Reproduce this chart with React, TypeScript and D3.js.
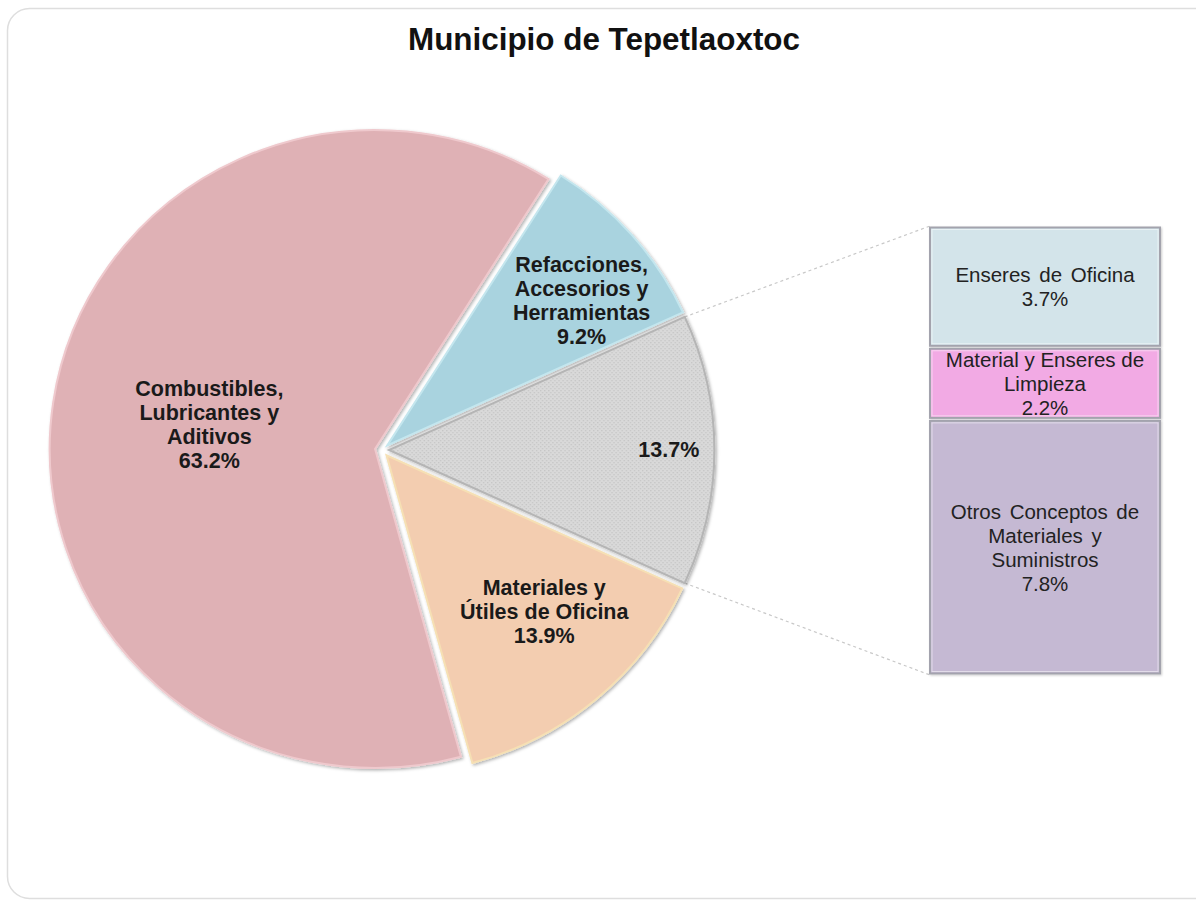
import React from "react";
import * as d3 from "d3";

const W = 1196;
const H = 903;

const title = "Municipio de Tepetlaoxtoc";

const pieCategories = [
  "Refacciones, Accesorios y Herramientas",
  "Otros",
  "Materiales y Útiles de Oficina",
  "Combustibles, Lubricantes y Aditivos",
];
const pieValues = [9.2, 13.7, 13.9, 63.2];
const pieLabelLines = [
  ["Refacciones,", "Accesorios y", "Herramientas"],
  [],
  ["Materiales y", "Útiles de Oficina"],
  ["Combustibles,", "Lubricantes y", "Aditivos"],
];

const barCategories = [
  "Enseres de Oficina",
  "Material y Enseres de Limpieza",
  "Otros Conceptos de Materiales y Suministros",
];
const barValues = [3.7, 2.2, 7.8];
const barLabelLines = [
  ["Enseres de Oficina"],
  ["Material y Enseres de", "Limpieza"],
  ["Otros Conceptos de", "Materiales y", "Suministros"],
];

// styles
const pieFills = ["#a9d3df", "url(#dots)", "#f3cdb0", "#dfb1b5"];
const pieRims = ["#c4e6ee", "#b5b5b5", "#f6e0b4", "#efc9cd"];
const pieLabelFactor = [0.75, 0.86, 0.69, 0.515];
const pieLabelTurn = [4, 0, -4.3, 0]; // degrees
const barFills = ["#d3e4ea", "#f2aae4", "#c5b9d3"];
const barWordSpacing = [3, 0, 3];

const cx = 382;
const cy = 450;
const R = 319;
const SX = 1.02;
const EXPLODE = 7;

const barX0 = 930;
const barX1 = 1160;
const barY0 = 226;
const barY1 = 675;

const fmt = (v: number) => v.toFixed(1) + "%";

export default function App() {
  const total = d3.sum(pieValues);
  const start = Math.PI / 2 - ((pieValues[0] + pieValues[1] / 2) / total) * 2 * Math.PI;
  const pie = d3
    .pie<number>()
    .sort(null)
    .value((d) => d)
    .startAngle(start)
    .endAngle(start + 2 * Math.PI);
  const arcs = pie(pieValues);
  const arc = d3.arc<d3.PieArcDatum<number>>().innerRadius(0).outerRadius(R);

  const mid = (a: d3.PieArcDatum<number>) => (a.startAngle + a.endAngle) / 2;
  const offset = (a: d3.PieArcDatum<number>) => {
    const m = mid(a);
    return [EXPLODE * Math.sin(m), -EXPLODE * Math.cos(m)];
  };

  const barTotal = d3.sum(barValues);
  const y = d3.scaleLinear().domain([0, barTotal]).range([barY0, barY1]);
  let acc = 0;
  const segs = barValues.map((v, i) => {
    const s = { i, v, y0: y(acc), y1: y(acc + v) };
    acc += v;
    return s;
  });

  // connector points from "other" slice
  const other = arcs[1];
  const [ox, oy] = offset(other);
  const pt = (ang: number) => [cx + ox + SX * R * Math.sin(ang), cy + oy - R * Math.cos(ang)];
  const pTop = pt(other.startAngle);
  const pBot = pt(other.endAngle);

  const labelFont = "'Liberation Sans', Arial, Helvetica, sans-serif";
  const lh = 24;

  return (
    <svg
      width={W}
      height={H}
      viewBox={`0 0 ${W} ${H}`}
      style={{ position: "absolute", left: 0, top: 0, background: "#ffffff" }}
    >
      <defs>
        <pattern id="dots" width="4" height="4" patternUnits="userSpaceOnUse">
          <rect width="4" height="4" fill="#d9d9d9" />
          <rect x="0" y="0" width="1.3" height="1.3" fill="#c6c6c6" />
          <rect x="2" y="2" width="1.3" height="1.3" fill="#c6c6c6" />
        </pattern>
        <filter id="shadow" x="-10%" y="-10%" width="120%" height="120%">
          <feDropShadow dx="1.5" dy="1.5" stdDeviation="1.5" floodColor="#000" floodOpacity="0.3" />
        </filter>
        <filter id="bshadow" x="-10%" y="-10%" width="120%" height="120%">
          <feDropShadow dx="1" dy="1" stdDeviation="1" floodColor="#000" floodOpacity="0.2" />
        </filter>
      </defs>

      <rect x={7.5} y={8.5} width={1400} height={890} rx={22} fill="#fff" stroke="#dedede" strokeWidth={1.5} />

      <text
        x={604}
        y={50}
        textAnchor="middle"
        fontFamily="'Liberation Sans Narrow', 'Arial Narrow', 'Liberation Sans', Arial, sans-serif"
        fontWeight="bold"
        fontSize={31}
        textLength={392}
        lengthAdjust="spacingAndGlyphs"
        fill="#111"
      >
        {title}
      </text>

      {/* connectors */}
      <line x1={pTop[0]} y1={pTop[1]} x2={barX0} y2={barY0} stroke="#c8c8c8" strokeWidth={1.2} strokeDasharray="3,3" />
      <line x1={pBot[0]} y1={pBot[1]} x2={barX0} y2={barY1} stroke="#c8c8c8" strokeWidth={1.2} strokeDasharray="3,3" />

      {/* pie */}
      <g>
        {arcs.map((a, i) => {
          const [dx, dy] = offset(a);
          return (
            <g key={pieCategories[i]} transform={`translate(${cx + dx},${cy + dy}) scale(${SX},1)`}>
              <path d={arc(a) || ""} fill={pieFills[i]} stroke={pieRims[i]} strokeWidth={2} filter="url(#shadow)" />
            </g>
          );
        })}
        {arcs.map((a, i) => {
          const [dx, dy] = offset(a);
          const m = mid(a) + (pieLabelTurn[i] * Math.PI) / 180;
          const lr = R * pieLabelFactor[i];
          const lx = cx + dx + SX * lr * Math.sin(m);
          const ly = cy + dy - lr * Math.cos(m);
          const lines = [...pieLabelLines[i], fmt(pieValues[i])];
          const first = ly - ((lines.length - 1) * lh) / 2;
          return (
            <text
              key={"l" + i}
              textAnchor="middle"
              fontFamily={labelFont}
              fontWeight="bold"
              fontSize={21.5}
              fill="#1a1a1a"
            >
              {lines.map((t, j) => (
                <tspan key={j} x={lx} y={first + j * lh} dominantBaseline="central">
                  {t}
                </tspan>
              ))}
            </text>
          );
        })}
      </g>

      {/* bar */}
      <g filter="url(#bshadow)">
        {segs.map((s) => (
          <g key={barCategories[s.i]}>
            <rect
              x={barX0}
              y={s.y0 + 1.5}
              width={barX1 - barX0}
              height={s.y1 - s.y0 - 3}
              fill={barFills[s.i]}
              stroke="#a3a3ad"
              strokeWidth={2}
            />
            <rect
              x={barX0 + 2}
              y={s.y0 + 3.5}
              width={barX1 - barX0 - 4}
              height={s.y1 - s.y0 - 7}
              fill="none"
              stroke="#ffffff"
              strokeOpacity={0.5}
              strokeWidth={1}
            />
          </g>
        ))}
      </g>
      {segs.map((s) => {
        const lines = [...barLabelLines[s.i], fmt(s.v)];
        const c = (s.y0 + s.y1) / 2;
        const first = c - ((lines.length - 1) * lh) / 2;
        const x = (barX0 + barX1) / 2;
        return (
          <text
            key={"b" + s.i}
            textAnchor="middle"
            fontFamily={labelFont}
            fontSize={20.5}
            fill="#222"
            style={{ wordSpacing: barWordSpacing[s.i] + "px" }}
          >
            {lines.map((t, j) => (
              <tspan key={j} x={x} y={first + j * lh} dominantBaseline="central">
                {t}
              </tspan>
            ))}
          </text>
        );
      })}
    </svg>
  );
}
